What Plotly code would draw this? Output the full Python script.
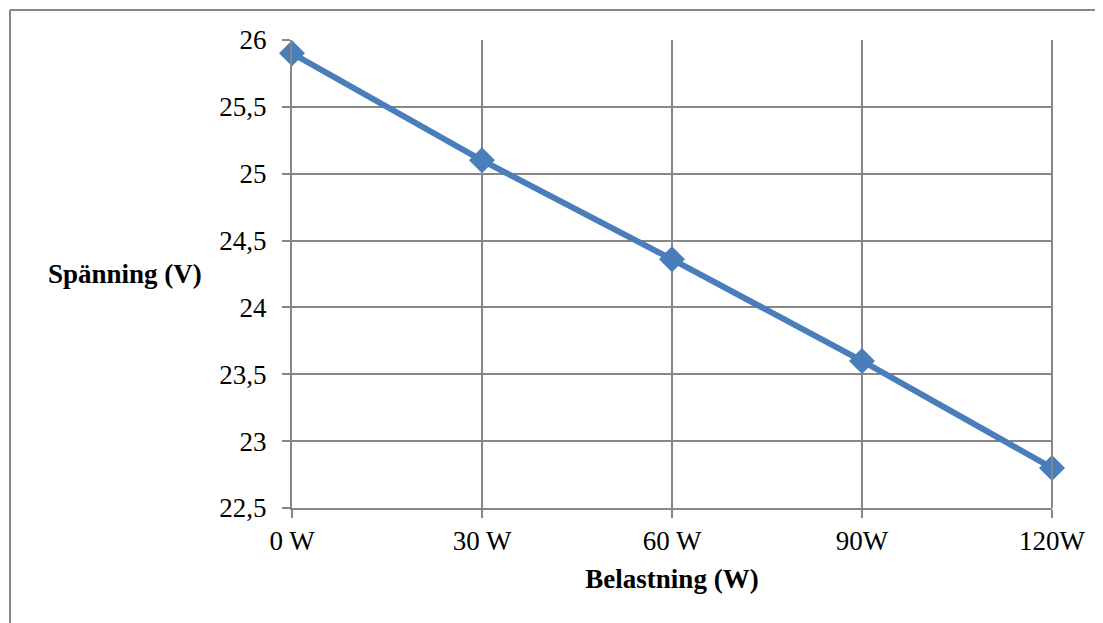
import plotly.graph_objects as go

categories = ["0 W", "30 W", "60 W", "90W", "120W"]
voltage = [25.9, 25.1, 24.36, 23.6, 22.8]
y_ticks = [22.5, 23, 23.5, 24, 24.5, 25, 25.5, 26]
y_tick_labels = ["22,5", "23", "23,5", "24", "24,5", "25", "25,5", "26"]

W, H = 1103, 623
OFF = 8  # default page body margin
ML, MT = 292 - OFF, 40 - OFF
MR = W - (1052 - OFF)
MB = H - (508 - OFF)
FONT = "Liberation Serif"
FS = 27
GRID = "#878787"
BLUE = "#4A7EBB"

fig = go.Figure()
fig.add_trace(go.Scatter(
    x=list(range(len(categories))), y=voltage, mode="lines+markers",
    line=dict(color=BLUE, width=6),
    marker=dict(symbol="diamond", size=20, color=BLUE),
    showlegend=False, cliponaxis=False,
))

pw = W - ML - MR
ph = H - MT - MB
# outer chart border (left and top edges)
bx = 10 - OFF
x0 = (bx - ML) / pw
y0 = 1 + (MT - bx) / ph
fig.add_shape(type="line", xref="paper", yref="paper", x0=x0, x1=x0, y0=y0, y1=-(MB + 20) / ph,
              line=dict(color=GRID, width=2))
fig.add_shape(type="line", xref="paper", yref="paper", x0=x0, x1=(W - ML + 20) / pw, y0=y0, y1=y0,
              line=dict(color=GRID, width=2))

fig.update_layout(
    width=W, height=H,
    margin=dict(l=ML, r=MR, t=MT, b=MB),
    paper_bgcolor="white", plot_bgcolor="white",
    font=dict(family=FONT, size=FS, color="black"),
    xaxis=dict(
        range=[0, len(categories) - 1],
        tickmode="array", tickvals=list(range(len(categories))), ticktext=categories,
        showgrid=True, gridcolor=GRID, gridwidth=2,
        showline=True, linecolor=GRID, linewidth=2, mirror=False,
        ticks="outside", ticklen=8, tickcolor=GRID, tickwidth=2,
        zeroline=False,
        title=dict(text="<b>Belastning (W)</b>", standoff=14, font=dict(size=FS)),
    ),
    yaxis=dict(
        range=[22.5, 26],
        tickmode="array", tickvals=y_ticks, ticktext=y_tick_labels,
        showgrid=True, gridcolor=GRID, gridwidth=2,
        showline=True, linecolor=GRID, linewidth=2,
        ticks="outside", ticklen=8, tickcolor=GRID, tickwidth=2,
        ticklabelstandoff=10,
        zeroline=False,
    ),
    annotations=[dict(
        text="<b>Spänning (V)</b>", xref="paper", yref="paper",
        x=(125 - OFF - ML) / pw, y=0.5, xanchor="center", yanchor="middle",
        showarrow=False, font=dict(family=FONT, size=FS, color="black"),
    )],
)
fig.add_shape(type="line", xref="paper", yref="paper", x0=1, x1=1, y0=0, y1=1,
              line=dict(color=GRID, width=2))

fig.write_html("out.html")
